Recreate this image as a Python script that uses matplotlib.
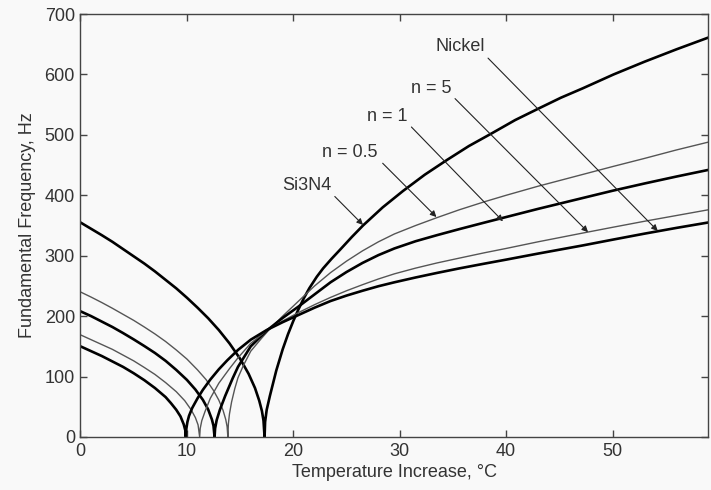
#!/usr/bin/python3
# Fundamental frequency vs temperature increase for Si3N4, FGM (n = 0.5, 1, 5) and Nickel plates
# values

import matplotlib
matplotlib.use('Agg')
import matplotlib.pyplot as plt

plt.rcParams['font.family'] = ['Liberation Sans', 'DejaVu Sans']

# Si3N4
temp_si = [0, 1, 2, 3, 4, 5, 6, 7, 8, 9, 10, 11, 12, 13, 14, 15, 15.8, 16.4, 16.8, 17.05, 17.2, 17.3,
           17.35, 17.5, 17.8, 18.4, 19, 19.5, 20, 20.45, 21, 21.5, 22.2, 22.8, 23.6, 24.4, 25.5, 26.55,
           28.4, 30.3, 32.35, 34.4, 36.5, 38.6, 40.85, 43.1, 45.15, 47.2, 50.1, 53, 56, 59]
freq_si = [355, 344.5, 334, 323, 311, 299, 287, 274, 260, 246, 230.5, 214, 196.5, 177, 155, 129.5, 104.5, 81, 60, 43, 27, 0,
           25, 45, 68, 110, 145, 170, 192, 210, 230, 246, 265, 279, 295, 310, 331, 350,
           380, 407, 434, 458, 481.5, 502, 524.5, 544, 561.5, 577, 600, 621, 641.5, 661]

# n = 0.5
temp_n05 = [0, 1, 2, 3, 4, 5, 6, 7, 8, 9, 10, 11, 11.8, 12.5, 13, 13.4, 13.65, 13.78, 13.85,
            13.9, 14.0, 14.2, 14.5, 14.8, 15.3, 16, 17, 17.8, 19, 20.5, 22, 23.5, 25, 26.5, 28, 29.5,
            31.5, 33.5, 35.6, 38, 40, 43, 47.2, 50, 53, 56, 59]
freq_n05 = [240, 231.5, 222.5, 213, 203, 193, 182, 170.5, 158, 144, 129, 111, 95, 77, 61, 44, 29, 17, 0,
            22, 38, 58, 80, 98, 118, 142, 163, 179, 200, 225, 250, 272, 291, 308, 323, 336,
            350, 363, 376, 389.5, 400, 415, 434.5, 447.5, 461, 475, 488]

# n = 1
temp_n1 = [0, 1, 2, 3, 4, 5, 6, 7, 8, 9, 10, 10.8, 11.5, 12, 12.35, 12.5, 12.6,
           12.65, 12.8, 13.1, 13.6, 14.3, 14.8, 16, 17.5, 19, 20.5, 22, 23.5, 25, 26.5, 28, 29.5,
           31.5, 33.5, 35.6, 38, 40, 43, 47.2, 50, 53, 56, 59]
freq_n1 = [208, 200, 191, 182, 172, 161.5, 150.5, 139, 126, 111, 94.5, 78.5, 61.5, 45.5, 29, 18.5, 0,
           14, 28, 45, 68, 97, 116, 150, 176, 197, 216, 236, 256, 273, 288, 301, 312,
           324, 334, 344, 355, 364, 377.5, 395.5, 407.5, 419.5, 431, 442]

# n = 5
temp_n5 = [0, 1, 2, 3, 4, 5, 6, 7, 8, 9, 9.8, 10.4, 10.8, 11.05, 11.2,
           11.25, 11.4, 11.7, 12.2, 13, 14, 14.8, 16, 17.5, 19, 20.5, 22, 23.5, 25, 26.5, 28, 29.5,
           31.5, 33.5, 35.6, 38, 40, 43, 47.2, 50, 53, 56, 59]
freq_n5 = [169, 161, 153, 145, 135.5, 126, 115, 103.5, 90, 75, 60, 45, 32, 20, 0,
           14, 27, 42, 64, 89, 113, 131, 155, 176, 192, 206, 219, 231, 242, 252, 261.5, 270,
           279.5, 288, 296, 305, 312, 323, 337.5, 347, 357, 366.5, 376]

# Nickel
temp_ni = [0, 1, 2, 3, 4, 5, 6, 7, 8, 8.5, 9, 9.4, 9.7, 9.85, 9.9,
           9.95, 10.05, 10.2, 10.5, 11, 11.5, 12.2, 13, 13.8, 14.8, 16, 17.5, 19, 20.5, 22, 23.5, 25, 26.5,
           28, 29.5, 31.5, 33.5, 35.6, 38, 40, 43, 47.2, 50, 53, 56, 59]
freq_ni = [150, 142, 134, 125, 116, 105.5, 94, 81, 66, 56, 45, 34, 21, 11, 0,
           14, 25, 35, 48, 64, 78, 95, 112, 127, 144, 161, 177, 190, 202, 214, 225, 234, 242,
           249.5, 256, 264, 271.5, 279, 287, 293.5, 303.5, 317, 326.5, 336.5, 346, 355]

# label text, label position, arrow start, arrow tip
labels = ['Si3N4', 'n = 0.5', 'n = 1', 'n = 5', 'Nickel']
label_xy = [(21.3, 417), (25.3, 470), (28.8, 530), (33.0, 577), (35.7, 646)]
arrow_from = [(23.9, 398), (28.4, 453), (31.1, 513), (35.2, 560), (38.3, 627)]
arrow_to = [(26.55, 351), (33.45, 364), (39.7, 357), (47.7, 339), (54.25, 341)]

bg = '#f9f9f9'
fig = plt.figure(figsize=(7.11, 4.90), dpi=100, facecolor=bg)
ax = fig.add_axes([0.1132, 0.1082, 0.8830, 0.8632], facecolor=bg)

thick = dict(color='black', lw=1.9, solid_joinstyle='round')
thin = dict(color='#555555', lw=1.0, solid_joinstyle='round')
ax.plot(temp_si, freq_si, **thick)
ax.plot(temp_n05, freq_n05, **thin)
ax.plot(temp_n1, freq_n1, **thick)
ax.plot(temp_n5, freq_n5, **thin)
ax.plot(temp_ni, freq_ni, **thick)

for lab, pos, p0, p1 in zip(labels, label_xy, arrow_from, arrow_to):
    ax.text(pos[0], pos[1], lab, fontsize=13, color='#333333', ha='center', va='center')
    ax.annotate('', xy=p1, xytext=p0,
                arrowprops=dict(arrowstyle='-|>', color='#222222', lw=0.8,
                                mutation_scale=9, shrinkA=0, shrinkB=0))

ax.set_xlim(0, 59)
ax.set_ylim(0, 700)
ax.set_xticks([0, 10, 20, 30, 40, 50])
ax.set_yticks([0, 100, 200, 300, 400, 500, 600, 700])
ax.tick_params(direction='in', top=True, right=True, length=5, width=1,
               color='#444444', labelsize=13, labelcolor='#333333', pad=4)
for s in ax.spines.values():
    s.set_color('#444444')
    s.set_linewidth(1.0)

ax.set_xlabel('Temperature Increase, \u00b0C', fontsize=13, color='#333333', labelpad=3)
ax.set_ylabel('Fundamental Frequency, Hz', fontsize=13, color='#333333', labelpad=6)

fig.savefig('out.png', dpi=100, facecolor=bg)
